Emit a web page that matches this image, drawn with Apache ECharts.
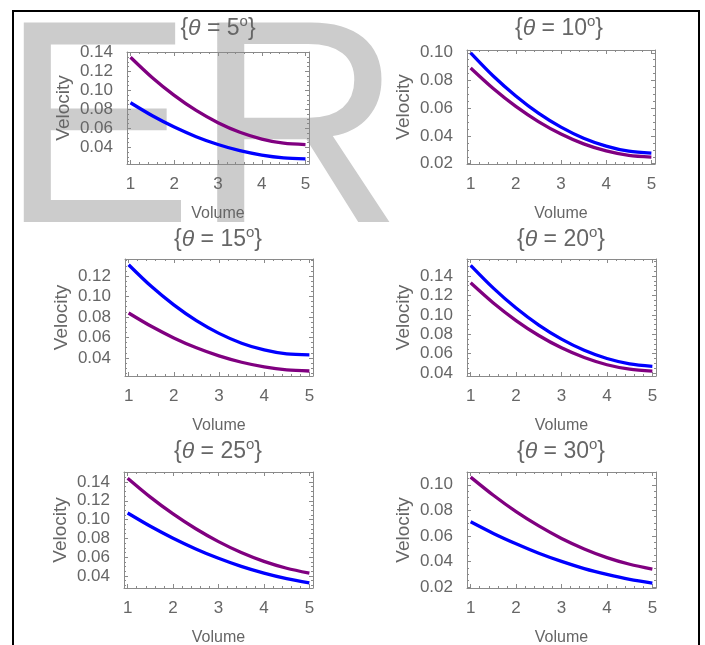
<!DOCTYPE html>
<html>
<head>
<meta charset="utf-8">
<script src="https://cdn.jsdelivr.net/npm/echarts@6/dist/echarts.min.js"></script>
<style>
    html, body { margin: 0; padding: 0; background: #fff; }
    #main { width: 705px; height: 645px; }
</style>
</head>
<body>
<div id="main"></div>
<script>
// 横轴: 体积
var volume = [1, 1.5, 2, 2.5, 3, 3.5, 4, 4.5, 5];
var thetas = [5, 10, 15, 20, 25, 30];
var xTicks = [1, 2, 3, 4, 5];

// 每个角度两条曲线 (蓝 / 紫)
var blue5    = [0.087, 0.0733, 0.0614, 0.0513, 0.043, 0.0365, 0.0319, 0.029, 0.028];
var purple5  = [0.135, 0.1134, 0.0948, 0.0789, 0.066, 0.0559, 0.0488, 0.0444, 0.043];
var blue10   = [0.100, 0.0833, 0.0689, 0.0565, 0.0464, 0.0384, 0.0327, 0.029, 0.0276];
var purple10 = [0.089, 0.0742, 0.0613, 0.0504, 0.0414, 0.0343, 0.0292, 0.026, 0.0248];
var blue15   = [0.131, 0.1099, 0.0918, 0.0764, 0.064, 0.0544, 0.0478, 0.0439, 0.043];
var purple15 = [0.0839, 0.0709, 0.0596, 0.0499, 0.042, 0.0358, 0.0313, 0.0284, 0.0273];
var blue20   = [0.151, 0.1275, 0.107, 0.0895, 0.075, 0.0635, 0.055, 0.0495, 0.047];
var purple20 = [0.133, 0.1122, 0.0941, 0.0787, 0.066, 0.056, 0.0486, 0.044, 0.042];
var blue25   = [0.107, 0.0929, 0.0802, 0.0688, 0.0588, 0.0502, 0.043, 0.0371, 0.0326];
var purple25 = [0.144, 0.1239, 0.106, 0.0902, 0.0765, 0.0649, 0.0555, 0.0482, 0.043];
var blue30   = [0.071, 0.0619, 0.0538, 0.0464, 0.040, 0.0344, 0.0298, 0.0259, 0.023];
var purple30 = [0.106, 0.0918, 0.079, 0.0678, 0.058, 0.0498, 0.043, 0.0378, 0.034];

// 纵轴刻度
var yTicks5  = [0.04, 0.06, 0.08, 0.10, 0.12, 0.14];
var yTicks10 = [0.02, 0.04, 0.06, 0.08, 0.10];
var yTicks15 = [0.04, 0.06, 0.08, 0.10, 0.12];
var yTicks20 = [0.04, 0.06, 0.08, 0.10, 0.12, 0.14];
var yTicks25 = [0.04, 0.06, 0.08, 0.10, 0.12, 0.14];
var yTicks30 = [0.02, 0.04, 0.06, 0.08, 0.10];

var blues = [blue5, blue10, blue15, blue20, blue25, blue30];
var purples = [purple5, purple10, purple15, purple20, purple25, purple30];
var yTicks = [yTicks5, yTicks10, yTicks15, yTicks20, yTicks25, yTicks30];
var yRanges = [[0.0225, 0.1405], [0.0198, 0.102], [0.0224, 0.1366], [0.037, 0.1575], [0.0272, 0.1506], [0.0192, 0.110]];

// 子图位置 (像素)
var boxes = [
    {left: 127, top: 52, width: 182, height: 112},
    {left: 467, top: 50, width: 188, height: 114},
    {left: 125, top: 259, width: 188, height: 117},
    {left: 467, top: 259, width: 189, height: 117},
    {left: 124, top: 472, width: 189, height: 116},
    {left: 467, top: 472, width: 189, height: 116}
];
var titlePos = [[218, 29], [559, 29], [218, 240], [561, 240], [218, 452], [561, 452]];

var frameColor = '#8a8a8a';
var textColor = '#666';
var font = '"Liberation Sans", Arial, sans-serif';

var chart = echarts.init(document.getElementById('main'));

function minorList(min, max, step, majorStep) {
    var out = [];
    var s = Math.ceil(min / step - 1e-9);
    for (var k = s; k * step <= max + 1e-9; k++) {
        var v = Math.round(k * step * 10000) / 10000;
        if (Math.abs(v / majorStep - Math.round(v / majorStep)) > 1e-6) out.push(v);
    }
    return out;
}

var grids = [], xAxes = [], yAxes = [], series = [], graphics = [];

for (let i = 0; i < 6; i++) {
    let b = boxes[i];
    grids.push({left: b.left, top: b.top, width: b.width, height: b.height, containLabel: false, outerBoundsMode: 'none'});

    let xmin = 0.92, xmax = 5.08;
    let ymin = yRanges[i][0], ymax = yRanges[i][1];
    let xMinor = minorList(xmin, xmax, 0.2, 1);
    let yMinor = minorList(ymin, ymax, 0.005, 0.02);

    /** x 轴: 下(主), 下(次), 上(主), 上(次) */
    ['bottom', 'top'].forEach(function (pos) {
        xAxes.push({
            gridIndex: i, type: 'value', position: pos, min: xmin, max: xmax,
            axisLine: {show: true, onZero: false, lineStyle: {color: frameColor, width: 1}},
            axisTick: {show: true, inside: true, length: 4, customValues: xTicks, lineStyle: {color: frameColor}},
            axisLabel: {
                show: pos === 'bottom', customValues: xTicks, margin: 12,
                color: textColor, fontSize: 17, fontFamily: font
            },
            splitLine: {show: false},
            name: pos === 'bottom' ? 'Volume' : '',
            nameLocation: 'middle', nameGap: 42,
            nameTextStyle: {color: textColor, fontSize: 16, fontFamily: font}
        });
        xAxes.push({
            gridIndex: i, type: 'value', position: pos, min: xmin, max: xmax,
            axisLine: {show: false},
            axisTick: {show: true, inside: true, length: 2, customValues: xMinor, lineStyle: {color: frameColor}},
            axisLabel: {show: false, customValues: xMinor},
            splitLine: {show: false}
        });
    });

    /** y 轴: 左(主), 左(次), 右(主), 右(次) */
    ['left', 'right'].forEach(function (pos) {
        yAxes.push({
            gridIndex: i, type: 'value', position: pos, min: ymin, max: ymax,
            axisLine: {show: true, onZero: false, lineStyle: {color: frameColor, width: 1}},
            axisTick: {show: true, inside: true, length: 4, customValues: yTicks[i], lineStyle: {color: frameColor}},
            axisLabel: {
                show: pos === 'left', customValues: yTicks[i], margin: 14,
                color: textColor, fontSize: 17, fontFamily: font,
                formatter: function (v) { return v.toFixed(2); }
            },
            splitLine: {show: false},
            name: pos === 'left' ? 'Velocity' : '',
            nameLocation: 'middle', nameGap: 54, nameRotate: 90,
            nameTextStyle: {color: textColor, fontSize: 19, fontFamily: font}
        });
        yAxes.push({
            gridIndex: i, type: 'value', position: pos, min: ymin, max: ymax,
            axisLine: {show: false},
            axisTick: {show: true, inside: true, length: 2, customValues: yMinor, lineStyle: {color: frameColor}},
            axisLabel: {show: false, customValues: yMinor},
            splitLine: {show: false}
        });
    });

    let pairs = [[purples[i], '#800080'], [blues[i], '#0000ff']];
    pairs.forEach(function (p) {
        series.push({
            type: 'line',
            xAxisIndex: i * 4,
            yAxisIndex: i * 4,
            data: volume.map(function (x, j) { return [x, p[0][j]]; }),
            smooth: 0.3,
            showSymbol: false,
            lineStyle: {color: p[1], width: 3.3},
            z: 3
        });
    });

    graphics.push({
        type: 'text',
        x: titlePos[i][0], y: titlePos[i][1],
        z: 10,
        style: {
            text: '{n|{}{i|θ}{n| = ' + thetas[i] + '}{s|o}{n|}}',
            align: 'center', verticalAlign: 'middle',
            fill: textColor, font: '23px ' + font,
            rich: {
                n: {fontSize: 23, fontFamily: font, color: textColor, lineHeight: 30},
                i: {fontSize: 23, fontFamily: font, fontStyle: 'italic', color: textColor, lineHeight: 30},
                s: {fontSize: 15, fontFamily: font, color: textColor, lineHeight: 14, verticalAlign: 'top'}
            }
        }
    });
}

// 水印 ER
graphics.unshift({
    type: 'text', x: 0, y: 142, z: -10,
    style: {text: 'ER', fill: '#cccccc', font: '290px ' + font, align: 'left', verticalAlign: 'middle'}
});
// 外框
graphics.push({
    type: 'rect', z: 20,
    shape: {x: 13, y: 11, width: 686, height: 700},
    style: {fill: 'none', stroke: '#000', lineWidth: 2}
});

chart.setOption({
    animation: false,
    backgroundColor: '#fff',
    grid: grids,
    xAxis: xAxes,
    yAxis: yAxes,
    series: series,
    graphic: graphics
});
</script>
</body>
</html>
